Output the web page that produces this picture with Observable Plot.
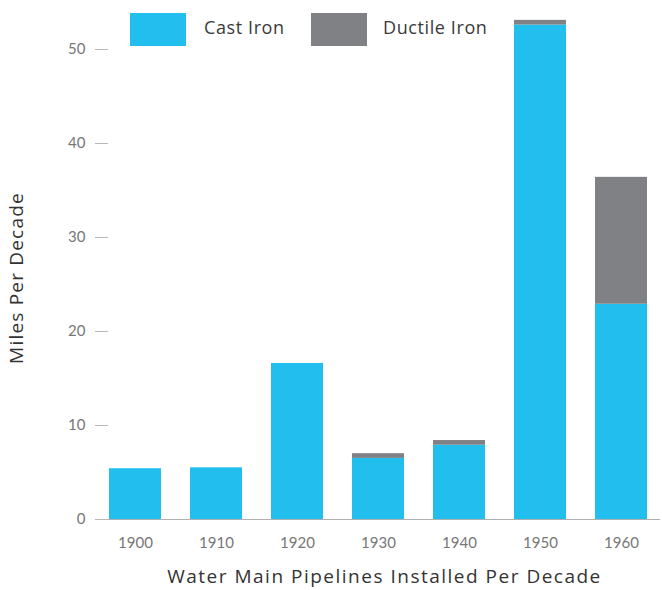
<!DOCTYPE html>
<html>
<head>
<meta charset="utf-8">
<script src="https://cdn.jsdelivr.net/npm/d3@7"></script>
<script src="https://cdn.jsdelivr.net/npm/@observablehq/plot@0.6"></script>
<style>
  html, body { margin: 0; padding: 0; background: #fff; }
  #wrap { position: relative; width: 662px; height: 590px; font-family: Lato, "Open Sans", sans-serif; }
  .sw { position: absolute; top: 13px; width: 56px; height: 33px; }
  .lt { position: absolute; top: 16px; font-family: "Open Sans", Lato, sans-serif; font-size: 18px; letter-spacing: 0.6px; color: #3a3a3a; line-height: 22px; white-space: nowrap; }
  g[aria-label="x-axis label"] text { letter-spacing: 1.5px; }
  g[aria-label="y-axis label"] text { letter-spacing: 1.2px; }
</style>
</head>
<body>
<div id="wrap"></div>
<script>
const decades = ["1900", "1910", "1920", "1930", "1940", "1950", "1960"];
const castIron = [5.4, 5.5, 16.6, 6.5, 7.9, 52.6, 22.9];
const ductileIron = [0, 0, 0, 0.5, 0.5, 0.5, 13.5];
const seriesNames = ["Cast Iron", "Ductile Iron"];
const seriesColors = ["#22BEEE", "#808184"];
const yTicks = [0, 10, 20, 30, 40, 50];

const rows = [];
decades.forEach((d, i) => {
  rows.push({decade: d, type: seriesNames[0], value: castIron[i]});
  rows.push({decade: d, type: seriesNames[1], value: ductileIron[i]});
});

const chart = Plot.plot({
  width: 662,
  height: 590,
  marginLeft: 108,
  marginRight: 2,
  marginTop: 2,
  marginBottom: 71,
  style: {fontFamily: "Lato, 'Open Sans', sans-serif", background: "#fff"},
  x: {type: "band", domain: decades, paddingInner: 0.363, paddingOuter: 0.067, align: 0.09},
  y: {domain: [0, 55]},
  color: {domain: seriesNames, range: seriesColors},
  marks: [
    Plot.barY(rows, {x: "decade", y: "value", fill: "type"}),
    Plot.ruleY([0], {stroke: "#b0b0b0", strokeWidth: 1.2}),
    Plot.axisX({tickSize: 0, tickPadding: 18, fontSize: 15, fill: "#777", label: null}),
    Plot.axisX({ticks: [], tickSize: 0, label: "Water Main Pipelines Installed Per Decade", labelAnchor: "center", labelOffset: 63, labelArrow: "none", fontSize: 19, fontFamily: "'Open Sans', Lato, sans-serif", fill: "#333"}),
    Plot.axisY({ticks: yTicks, tickSize: 13, tickPadding: 10, fontSize: 15, fill: "#777", stroke: "#b8b8b8", label: null}),
    Plot.axisY({ticks: [], tickSize: 0, label: "Miles Per Decade", labelAnchor: "center", labelOffset: 99, labelArrow: "none", fontSize: 19, fontFamily: "'Open Sans', Lato, sans-serif", fill: "#333"})
  ]
});

// shift the y-axis title slightly down, as in the reference
const yl = chart.querySelector('g[aria-label="y-axis label"]');
if (yl) yl.setAttribute("transform", "translate(0,17) " + (yl.getAttribute("transform") || ""));

const wrap = document.getElementById("wrap");
wrap.appendChild(chart);

// legend overlaid on the plot (HTML)
const legendPos = [{sw: 130, tx: 204}, {sw: 311, tx: 383}];
seriesNames.forEach((name, i) => {
  const s = document.createElement("div");
  s.className = "sw";
  s.style.left = legendPos[i].sw + "px";
  s.style.background = seriesColors[i];
  wrap.appendChild(s);
  const t = document.createElement("div");
  t.className = "lt";
  t.style.left = legendPos[i].tx + "px";
  t.textContent = name;
  wrap.appendChild(t);
});
</script>
</body>
</html>
